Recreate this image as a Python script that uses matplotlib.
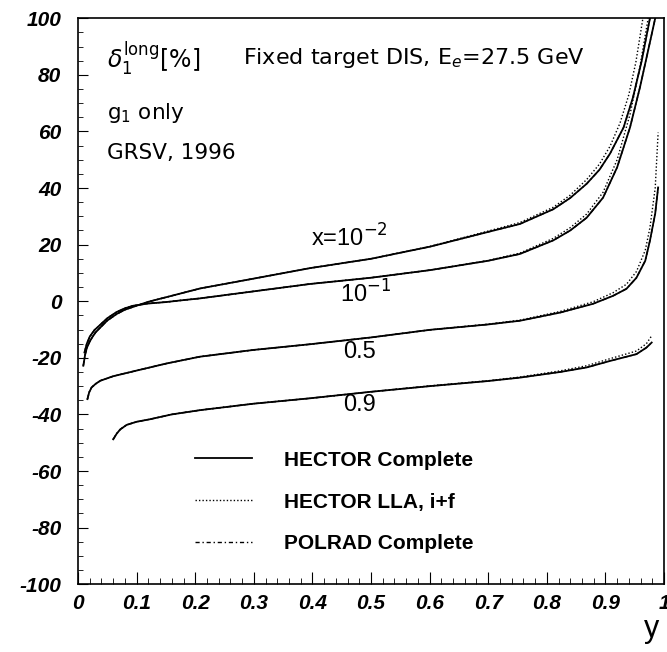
import matplotlib
matplotlib.use('Agg')
import matplotlib.pyplot as plt
from matplotlib.ticker import MultipleLocator, FuncFormatter

# curve x = 10^-2
y_x001 = [0.009, 0.012, 0.015, 0.02, 0.025, 0.03, 0.038, 0.05, 0.066, 0.08, 0.094,
          0.12, 0.15, 0.18, 0.208, 0.3, 0.396, 0.5, 0.601, 0.7, 0.754, 0.811, 0.84,
          0.868, 0.89, 0.908, 0.931, 0.947, 0.962, 0.976]
hc_x001 = [-22.8, -19.0, -16.5, -14.2, -12.5, -11.0, -9.3, -6.8, -4.5, -3.0, -2.0,
           -0.2, 1.4, 3.0, 4.5, 8.0, 11.7, 15.0, 19.3, 24.5, 27.3, 32.5, 36.5,
           41.5, 46.5, 52.2, 61.4, 72.0, 85.0, 100.0]
ylla_x001 = [0.009, 0.012, 0.015, 0.02, 0.025, 0.03, 0.038, 0.05, 0.066, 0.08, 0.094,
             0.12, 0.15, 0.18, 0.208, 0.3, 0.396, 0.5, 0.601, 0.7, 0.754, 0.811, 0.84,
             0.868, 0.89, 0.908, 0.925, 0.940, 0.952, 0.964]
lla_x001 = [-22.8, -19.0, -16.5, -14.2, -12.5, -11.0, -9.3, -6.8, -4.5, -3.0, -2.0,
            -0.2, 1.4, 3.0, 4.5, 8.0, 11.7, 15.0, 19.4, 24.8, 27.8, 33.2, 37.5,
            43.0, 48.5, 54.8, 63.0, 73.0, 84.5, 100.0]

# curve x = 10^-1
y_x01 = [0.011, 0.015, 0.02, 0.028, 0.038, 0.05, 0.066, 0.08, 0.094, 0.12, 0.15,
         0.18, 0.208, 0.3, 0.396, 0.5, 0.601, 0.7, 0.754, 0.811, 0.84, 0.868, 0.896,
         0.920, 0.942, 0.959, 0.973, 0.985]
hc_x01 = [-18.1, -15.0, -12.5, -10.2, -8.3, -6.0, -3.8, -2.5, -1.6, -0.8, -0.3,
          0.4, 1.0, 3.5, 6.1, 8.3, 11.0, 14.3, 16.7, 21.5, 25.0, 29.5, 36.6,
          47.3, 61.4, 75.6, 88.7, 100.0]
ylla_x01 = [0.011, 0.015, 0.02, 0.028, 0.038, 0.05, 0.066, 0.08, 0.094, 0.12, 0.15,
            0.18, 0.208, 0.3, 0.396, 0.5, 0.601, 0.7, 0.754, 0.811, 0.84, 0.868, 0.896,
            0.920, 0.942, 0.959, 0.973]
lla_x01 = [-18.1, -15.0, -12.5, -10.2, -8.3, -6.0, -3.8, -2.5, -1.6, -0.8, -0.3,
           0.4, 1.0, 3.5, 6.1, 8.3, 11.0, 14.4, 17.0, 22.2, 26.0, 30.8, 38.5,
           50.0, 66.0, 83.0, 100.0]

# curve x = 0.5
y_x05 = [0.016, 0.019, 0.023, 0.03, 0.038, 0.06, 0.094, 0.151, 0.208, 0.3, 0.396,
         0.5, 0.601, 0.7, 0.754, 0.823, 0.879, 0.913, 0.936, 0.953, 0.968, 0.976,
         0.985, 0.990]
hc_x05 = [-34.6, -32.2, -30.5, -29.2, -28.1, -26.5, -24.8, -22.0, -19.6, -17.2, -15.2,
          -12.8, -10.1, -8.2, -6.9, -4.0, -0.9, 1.9, 4.4, 8.3, 14.3, 21.4,
          31.0, 40.2]
lla_x05 = [-34.6, -32.2, -30.5, -29.2, -28.1, -26.5, -24.8, -22.0, -19.6, -17.2, -15.2,
           -12.8, -10.1, -8.1, -6.7, -3.6, -0.2, 3.0, 6.0, 10.5, 18.0, 26.0,
           40.0, 59.6]

# curve x = 0.9
y_x09 = [0.060, 0.066, 0.072, 0.083, 0.1, 0.123, 0.16, 0.208, 0.3, 0.396, 0.5,
         0.601, 0.7, 0.754, 0.823, 0.868, 0.908, 0.953, 0.970, 0.979]
hc_x09 = [-48.8, -46.8, -45.3, -43.7, -42.6, -41.7, -40.0, -38.5, -36.2, -34.3, -32.0,
          -30.0, -28.2, -27.0, -25.0, -23.4, -21.1, -18.7, -16.4, -14.6]
lla_x09 = [-48.8, -46.8, -45.3, -43.7, -42.6, -41.7, -40.0, -38.5, -36.2, -34.3, -32.0,
           -29.9, -28.1, -26.8, -24.6, -22.8, -20.3, -17.6, -15.0, -12.2]

series_labels = ["HECTOR Complete", "HECTOR LLA, i+f", "POLRAD Complete"]
curve_names = [r"x=10$^{-2}$", r"10$^{-1}$", "0.5", "0.9"]
curve_label_pos = [(0.464, 22.5), (0.49, 2.7), (0.48, -18.0), (0.48, -36.6)]

plt.rcParams['mathtext.fontset'] = 'dejavusans'

fig = plt.figure(figsize=(6.67, 6.52), dpi=100)
ax = fig.add_axes([0.117, 0.104, 0.8785, 0.868])

solid = dict(color='black', lw=1.3, ls='-')
dotted = dict(color='black', lw=1.0, ls=(0, (1, 1.5)))
dashdot = dict(color='black', lw=1.0, ls=(0, (3, 2, 1, 2)))

hc = [(y_x001, hc_x001), (y_x01, hc_x01), (y_x05, hc_x05), (y_x09, hc_x09)]
lla = [(ylla_x001, lla_x001), (ylla_x01, lla_x01), (y_x05, lla_x05), (y_x09, lla_x09)]

# POLRAD complete coincides with HECTOR complete on this scale
for yy, v in hc:
    ax.plot(yy, v, **dashdot)
for yy, v in lla:
    ax.plot(yy, v, **dotted)
for yy, v in hc:
    ax.plot(yy, v, **solid)

h1, = ax.plot([], [], **solid)
h2, = ax.plot([], [], **dotted)
h3, = ax.plot([], [], **dashdot)
ax.legend([h1, h2, h3], series_labels, loc='upper left', bbox_to_anchor=(0.2, 0.236),
          frameon=False, borderpad=0, borderaxespad=0, handlelength=2.74,
          handletextpad=1.5, labelspacing=1.1,
          prop=dict(family='Liberation Sans', weight='bold', size=15))

for name, (px, py) in zip(curve_names, curve_label_pos):
    ax.text(px, py, name, ha='center', va='center', fontsize=17, family='Liberation Sans')

ax.text(0.049, 86, r"$\delta_1^{\rm long}$[%]", fontsize=17, va='center')
ax.text(0.282, 86, r"Fixed target DIS, E$_e$=27.5 GeV", fontsize=16, va='center')
ax.text(0.049, 66.5, r"g$_1$ only", fontsize=15.5, va='center')
ax.text(0.049, 52.5, "GRSV, 1996", fontsize=15.5, va='center')

ax.set_xlim(0, 1)
ax.set_ylim(-100, 100)
ax.xaxis.set_major_locator(MultipleLocator(0.1))
ax.xaxis.set_minor_locator(MultipleLocator(0.02))
ax.yaxis.set_major_locator(MultipleLocator(20))
ax.yaxis.set_minor_locator(MultipleLocator(5))
ax.xaxis.set_major_formatter(FuncFormatter(lambda v, p: '%g' % round(v, 2)))
ax.yaxis.set_major_formatter(FuncFormatter(lambda v, p: '%g' % v))
ax.tick_params(which='both', direction='in', top=False, right=False)
ax.tick_params(axis='x', which='major', length=9, pad=7)
ax.tick_params(axis='x', which='minor', length=4.5)
ax.tick_params(axis='y', which='major', length=7.5, pad=12)
ax.tick_params(axis='y', which='minor', length=3.5)
for lab in ax.get_xticklabels() + ax.get_yticklabels():
    lab.set_family('Liberation Sans')
    lab.set_weight('bold')
    lab.set_style('italic')
    lab.set_fontsize(15)
for sp in ax.spines.values():
    sp.set_linewidth(1.2)

fig.text(0.977, 0.035, 'y', fontsize=22, family='Liberation Sans', ha='center', va='center')

fig.savefig('out.png', dpi=100)
